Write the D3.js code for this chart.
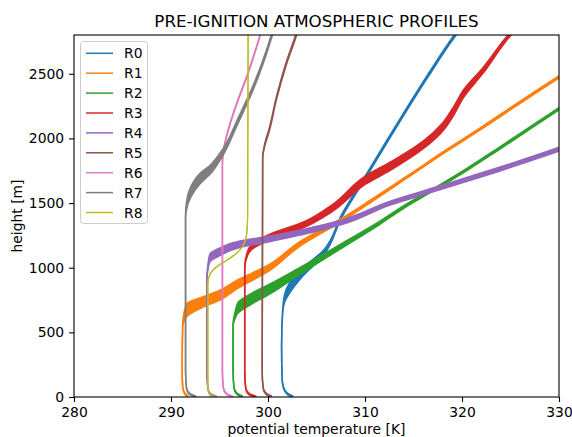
<!DOCTYPE html>
<html>
<head>
<meta charset="utf-8">
<script src="https://cdn.jsdelivr.net/npm/d3@7"></script>
<style>
body { margin: 0; background: #fff; }
text { font-family: "DejaVu Sans", sans-serif; fill: #000; }
</style>
</head>
<body>
<div id="chart"></div>
<script>
// run labels and colours (matplotlib tab10)
const runNames = ["R0", "R1", "R2", "R3", "R4", "R5", "R6", "R7", "R8"];
const runColors = ["#1f77b4", "#ff7f0e", "#2ca02c", "#d62728", "#9467bd",
                   "#8c564b", "#e377c2", "#7f7f7f", "#bcbd22"];

// profiles: [potential temperature K, height m, half band thickness m]
const profileR0 = [[302.6, 0, 6], [302.0, 25, 6], [301.6, 70, 5], [301.45, 150, 5], [301.4, 400, 5],
  [301.5, 650, 10], [301.7, 760, 30], [302.2, 840, 40], [303.5, 960, 32], [305.7, 1114, 20],
  [307.6, 1400, 12], [310.2, 1720, 11], [312.7, 2030, 11], [316.4, 2475, 11], [319.3, 2800, 11], [319.8, 2850, 11]];
const profileR1 = [[291.8, 0, 6], [291.4, 30, 6], [291.2, 80, 5], [291.15, 200, 5], [291.2, 550, 10],
  [291.6, 670, 50], [293.3, 735, 40], [295.1, 790, 38], [296.8, 870, 33], [300.0, 994, 25],
  [303.2, 1180, 18], [307.7, 1375, 12], [310.5, 1510, 10], [314.5, 1710, 8], [318.5, 1911, 8],
  [322.0, 2080, 8], [326.0, 2280, 8], [330.1, 2480, 8], [332.0, 2570, 8]];
const profileR2 = [[297.4, 0, 6], [296.8, 25, 6], [296.5, 70, 5], [296.4, 200, 5], [296.4, 560, 8],
  [296.6, 630, 25], [296.9, 690, 40], [298.3, 760, 42], [300.3, 840, 38], [302.3, 930, 30],
  [307.4, 1160, 18], [311.5, 1346, 12], [314.0, 1470, 10], [317.0, 1601, 9], [320.5, 1760, 9],
  [323.6, 1911, 9], [327.0, 2080, 9], [330.1, 2235, 9], [332.0, 2330, 9]];
const profileR3 = [[298.8, 0, 6], [298.0, 25, 6], [297.7, 70, 5], [297.6, 200, 5], [297.6, 1000, 8],
  [297.8, 1090, 15], [298.3, 1160, 20], [300.2, 1238, 22], [303.6, 1330, 22], [306.5, 1455, 26],
  [310.1, 1680, 32], [312.6, 1785, 32], [316.0, 1950, 30], [318.0, 2088, 32], [319.2, 2220, 34],
  [320.1, 2340, 30], [322.2, 2529, 22], [324.9, 2800, 15], [325.5, 2850, 15]];
const profileR4 = [[294.7, 0, 6], [294.0, 25, 6], [293.8, 70, 5], [293.7, 200, 5], [293.7, 900, 8],
  [293.8, 1000, 20], [294.0, 1075, 30], [295.1, 1125, 30], [297.0, 1180, 25], [299.5, 1214, 22],
  [303.6, 1276, 20], [307.7, 1354, 18], [312.6, 1500, 15], [317.7, 1617, 15], [323.6, 1756, 15],
  [329.8, 1911, 15], [332.0, 1970, 15]];
const profileR5 = [[300.4, 0, 6], [299.8, 25, 6], [299.5, 70, 5], [299.4, 200, 5], [299.45, 1850, 5],
  [299.7, 1960, 10], [300.1, 2060, 12], [300.9, 2320, 12], [301.9, 2583, 12], [302.9, 2800, 12],
  [303.1, 2850, 12]];
const profileR6 = [[296.4, 0, 4], [295.7, 25, 4], [295.4, 70, 3], [295.3, 200, 3], [295.3, 1800, 3],
  [295.4, 1900, 4], [295.9, 2065, 5], [296.8, 2274, 5], [297.8, 2475, 5], [299.2, 2800, 5], [299.4, 2850, 5]];
const profileR7 = [[292.6, 0, 6], [291.9, 25, 6], [291.6, 70, 5], [291.5, 200, 5], [291.5, 1400, 10],
  [291.6, 1480, 30], [292.0, 1580, 40], [293.0, 1690, 40], [294.0, 1756, 35], [295.4, 1900, 25],
  [296.8, 2119, 20], [298.5, 2398, 18], [300.4, 2800, 15], [300.6, 2850, 15]];
const profileR8 = [[294.7, 0, 1], [294.0, 25, 1], [293.8, 70, 0], [293.8, 200, 0], [293.8, 880, 0],
  [294.1, 960, 1], [294.7, 1006, 1], [296.0, 1070, 1], [296.8, 1114, 1], [297.5, 1180, 1],
  [297.8, 1260, 0], [297.9, 1400, 0], [297.95, 2850, 0]];

const profiles = [profileR0, profileR1, profileR2, profileR3, profileR4,
                  profileR5, profileR6, profileR7, profileR8];
const lineWidths = [1.5, 1.5, 1.5, 1.5, 1.5, 1.5, 1.5, 1.5, 1.2];

const xTicks = [280, 290, 300, 310, 320, 330];
const yTicks = [0, 500, 1000, 1500, 2000, 2500];

const width = 572, height = 437;
const plotLeft = 74, plotRight = 559, plotTop = 35, plotBottom = 397;

const x = d3.scaleLinear().domain([280, 330]).range([plotLeft, plotRight]);
const y = d3.scaleLinear().domain([0, 2800]).range([plotBottom, plotTop]);

const svg = d3.select("#chart").append("svg")
    .attr("width", width)
    .attr("height", height);

svg.append("clipPath").attr("id", "plot-clip")
    .append("rect")
    .attr("x", plotLeft)
    .attr("y", plotTop)
    .attr("width", plotRight - plotLeft)
    .attr("height", plotBottom - plotTop);

const plot = svg.append("g").attr("clip-path", "url(#plot-clip)");

const edge = d3.line().curve(d3.curveMonotoneY);

// each run is a band of ensemble members: fill between the upper and lower member
profiles.forEach((prof, i) => {
    const color = runColors[i];
    const upper = prof.map(d => [x(d[0]), y(d[1] + d[2])]);
    const lower = prof.map(d => [x(d[0]), y(d[1] - d[2])]);
    const g = plot.append("g");

    const band = edge(upper) + edge(lower.slice().reverse()).replace(/^M/, "L") + "Z";
    g.append("path")
        .attr("d", band)
        .attr("fill", color)
        .attr("stroke", "none");

    [upper, lower].forEach(pts => {
        g.append("path")
            .attr("d", edge(pts))
            .attr("fill", "none")
            .attr("stroke", color)
            .attr("stroke-width", lineWidths[i]);
    });
});

// axes
const xAxis = svg.append("g")
    .attr("transform", `translate(0,${plotBottom})`)
    .call(d3.axisBottom(x).tickValues(xTicks).tickSize(4.9).tickPadding(4.9).tickFormat(d3.format("d")));
const yAxis = svg.append("g")
    .attr("transform", `translate(${plotLeft},0)`)
    .call(d3.axisLeft(y).tickValues(yTicks).tickSize(4.9).tickPadding(4.9).tickFormat(d3.format("d")));

[xAxis, yAxis].forEach(ax => {
    ax.select(".domain").remove();
    ax.selectAll(".tick line").attr("stroke", "#000").attr("stroke-width", 1.1);
    ax.selectAll(".tick text")
        .attr("fill", "#000")
        .style("font-family", "DejaVu Sans, sans-serif")
        .style("font-size", "13.9px");
});

svg.append("rect")
    .attr("x", plotLeft)
    .attr("y", plotTop)
    .attr("width", plotRight - plotLeft)
    .attr("height", plotBottom - plotTop)
    .attr("fill", "none")
    .attr("stroke", "#000")
    .attr("stroke-width", 1.1);

// title and axis labels
svg.append("text")
    .attr("x", (plotLeft + plotRight) / 2)
    .attr("y", 26.7)
    .attr("text-anchor", "middle")
    .style("font-size", "16.7px")
    .text("PRE-IGNITION ATMOSPHERIC PROFILES");

svg.append("text")
    .attr("x", (plotLeft + plotRight) / 2)
    .attr("y", 434)
    .attr("text-anchor", "middle")
    .style("font-size", "13.9px")
    .text("potential temperature [K]");

svg.append("text")
    .attr("transform", `translate(21.5,${(plotTop + plotBottom) / 2}) rotate(-90)`)
    .attr("text-anchor", "middle")
    .style("font-size", "13.9px")
    .text("height [m]");

// legend
const legend = svg.append("g");
legend.append("rect")
    .attr("x", 80.5)
    .attr("y", 41.5)
    .attr("width", 67)
    .attr("height", 182)
    .attr("rx", 2.8)
    .attr("fill", "#fff")
    .attr("fill-opacity", 0.8)
    .attr("stroke", "#ccc")
    .attr("stroke-width", 1);

runNames.forEach((name, i) => {
    const ly = 53.3 + i * 19.9;
    legend.append("line")
        .attr("x1", 86).attr("x2", 113)
        .attr("y1", ly).attr("y2", ly)
        .attr("stroke", runColors[i])
        .attr("stroke-width", 1.5);
    legend.append("text")
        .attr("x", 124)
        .attr("y", ly)
        .attr("dy", "0.36em")
        .style("font-size", "13.9px")
        .text(name);
});
</script>
</body>
</html>
